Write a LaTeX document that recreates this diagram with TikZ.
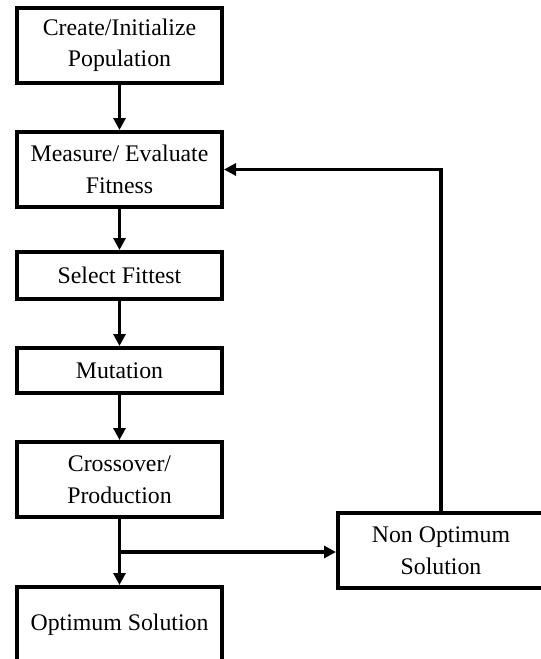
\documentclass[tikz,border=0pt]{standalone}
\usepackage{fontspec}
\setmainfont{Liberation Serif}
\usetikzlibrary{arrows.meta}
\begin{document}
\begin{tikzpicture}[x=1pt,y=1pt,
  box/.style={draw=black, line width=4pt, rectangle, minimum width=205pt, align=center, inner sep=0pt,
    font=\fontsize{23.8}{31.5}\selectfont},
  conn/.style={line width=3.3pt, -{Triangle[length=12pt,width=12pt]}}]
\path[use as bounding box, clip] (0,0) rectangle (541,-659);
\fill[white] (0,0) rectangle (541,-659);
\node[box, minimum height=75pt] (create) at (119.5,-45.5) {Create/Initialize\\Population};
\node[box, minimum height=75pt] (measure) at (119.5,-169.5) {Measure/ Evaluate\\Fitness};
\node[box, minimum height=47pt] (select) at (119.5,-275.5) {Select Fittest};
\node[box, minimum height=45pt] (mutation) at (119.5,-370.5) {Mutation};
\node[box, minimum height=75pt] (cross) at (119.5,-479.5) {Crossover/\\Production};
\node[box, minimum height=75pt] (opt) at (119.5,-624.5) {Optimum Solution};
\node[box, minimum height=75pt, minimum width=206pt] (nonopt) at (441,-550.5) {Non Optimum\\Solution};
\coordinate (junc) at (cross.south |- 0,-552);
\draw[conn] (create) -- (measure);
\draw[conn] (measure) -- (select);
\draw[conn] (select) -- (mutation);
\draw[conn] (mutation) -- (cross);
\draw[conn] (cross) -- (opt);
\draw[conn] (junc) -- (nonopt.west |- junc);
\draw[conn] (nonopt.north) |- (measure.east);
\end{tikzpicture}
\end{document}
